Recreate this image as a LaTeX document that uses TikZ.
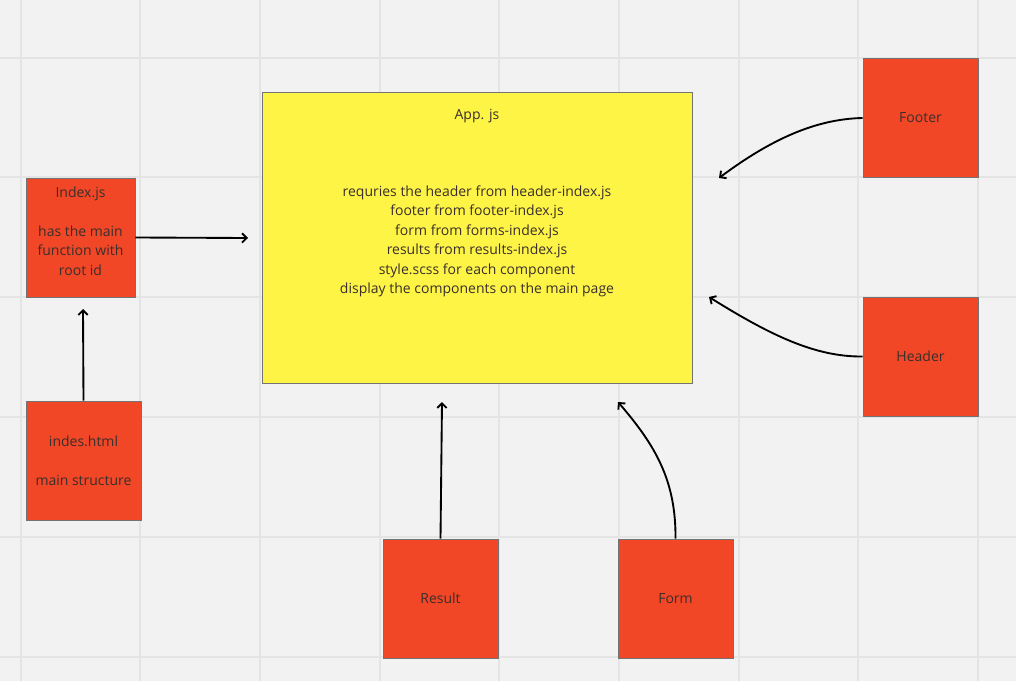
\documentclass[tikz,border=0pt]{standalone}
\usepackage{fontspec}
\setmainfont{Open Sans}
\usetikzlibrary{arrows.meta}
\definecolor{NoteRed}{HTML}{F24726}
\definecolor{NoteYellow}{HTML}{FEF445}
\definecolor{BoardGray}{HTML}{F2F2F2}
\definecolor{GridGray}{HTML}{E4E4E4}
\definecolor{InkGray}{HTML}{3A2F2C}
\begin{document}
\begin{tikzpicture}[x=0.75pt, y=-0.75pt]
\coordinate (P_IndexJs) at (80.5, 237.5);
\coordinate (P_IndesHtml) at (83.5, 460.5);
\coordinate (P_App) at (477, 237.5);
\coordinate (P_Footer) at (920.5, 118);
\coordinate (P_Header) at (920.5, 356.5);
\coordinate (P_Result) at (440.5, 598.5);
\coordinate (P_Form) at (675.5, 598.5);

\coordinate (T_App_1) at (248, 238);
\coordinate (T_IndexJs) at (83, 309);
\coordinate (T_App_2) at (442, 402);
\coordinate (T_App_3) at (618, 402);
\coordinate (T_App_4) at (719, 178);
\coordinate (T_App_5) at (709, 297);


\fill[BoardGray] (0,0) rectangle (1016,681);
\useasboundingbox (0,0) rectangle (1016,681);
\foreach \gx in {21,140,260,380,499,619,739,858,978}
  \draw[GridGray, line width=1pt] (\gx,0) -- (\gx,681);
\foreach \gy in {58,177,297,417,537,657}
  \draw[GridGray, line width=1pt] (0,\gy) -- (1016,\gy);


\tikzset{NoteText/.style = {
 text = InkGray,
 align = center,
 font = \fontsize{10.5}{14.6}\selectfont} }
\tikzset{NoteStyle/.style = {
 NoteText,
 shape = rectangle,
 fill = NoteRed,
 draw = black!55,
 line width = 0.6pt,
 inner sep = 0pt,
 minimum width = 86.25pt,
 minimum height = 89.25pt} }

\node[NoteStyle, minimum width=81.75pt,
  label={[NoteText, anchor=center, yshift=4.8pt]center:Index.js\\~\\has the main\\function with\\root id}]
  (IndexJs) at (P_IndexJs) {};
\node[NoteStyle] (IndesHtml) at (P_IndesHtml) {indes.html\\~\\main structure};
\node[NoteStyle] (Footer) at (P_Footer) {Footer};
\node[NoteStyle] (Header) at (P_Header) {Header};
\node[NoteStyle] (Result) at (P_Result) {Result};
\node[NoteStyle] (Form) at (P_Form) {Form};
\node[NoteStyle, fill=NoteYellow, minimum width=322.5pt, minimum height=218.25pt,
  label={[NoteText, anchor=north, yshift=-10pt]north:App. js},
  label={[NoteText, anchor=center, yshift=-3pt]center:requries the header from header-index.js\\footer from footer-index.js\\form from forms-index.js\\results from results-index.js\\style.scss for each component\\display the components on the main page}]
  (App) at (P_App) {};


\tikzset{LinkStyle/.style = {black, line width=1.4pt, -{Straight Barb[length=3.5pt, width=7pt]}} }

\draw[LinkStyle] (IndexJs.east) -- (T_App_1);
\draw[LinkStyle] (IndesHtml.north) -- (T_IndexJs);
\draw[LinkStyle] (Result.north) -- (T_App_2);
\draw[LinkStyle] (Form.north) .. controls (676,480) and (655,445) .. (T_App_3);
\draw[LinkStyle] (Footer.west) .. controls (815,119) and (770,140) .. (T_App_4);
\draw[LinkStyle] (Header.west) .. controls (815,357) and (770,335) .. (T_App_5);

\end{tikzpicture}
\end{document}
